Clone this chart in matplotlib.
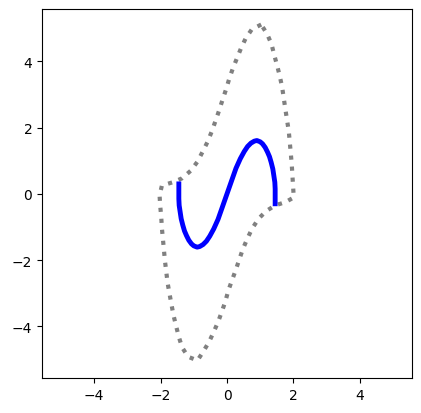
import matplotlib
matplotlib.use("Agg")
import matplotlib.pyplot as plt

# closed orbit (gray dotted)
cycle_x = [1.03, 0.75, 0.56, 0.42, 0.29, 0.17, 0.06, -0.03, -0.14, -0.24, -0.35, -0.46,
           -0.59, -0.74, -0.89, -1.09, -1.35, -1.63, -1.96, -2.03, -2.01, -1.98, -1.96,
           -1.93, -1.90, -1.87, -1.83, -1.79, -1.73, -1.67, -1.61, -1.53, -1.45, -1.35,
           -1.17, -0.89, -0.72, -0.54, -0.40, -0.27, -0.16, -0.05, 0.04, 0.15, 0.26, 0.37,
           0.48, 0.61, 0.75, 0.95, 1.18, 1.45, 1.76, 2.01, 1.99, 1.97, 1.95, 1.92, 1.89,
           1.86, 1.81, 1.76, 1.71, 1.66, 1.59, 1.51, 1.42, 1.34, 1.21, 1.03]
cycle_y = [5.11, 4.97, 4.69, 4.39, 4.07, 3.77, 3.45, 3.15, 2.82, 2.51, 2.19, 1.88,
           1.56, 1.26, 0.97, 0.70, 0.47, 0.35, 0.25, -0.05, -0.37, -0.70, -1.04,
           -1.36, -1.68, -2.01, -2.34, -2.68, -3.02, -3.35, -3.67, -4.00, -4.32, -4.64,
           -4.92, -5.03, -4.77, -4.47, -4.17, -3.87, -3.57, -3.25, -2.92, -2.61, -2.31, -1.98,
           -1.66, -1.36, -1.06, -0.75, -0.52, -0.35, -0.25, -0.11, 0.22, 0.55, 0.88, 1.23, 1.56,
           1.89, 2.21, 2.54, 2.88, 3.22, 3.55, 3.87, 4.20, 4.52, 4.82, 5.11]

# S-shaped curve (blue)
s_x = [-1.45, -1.45, -1.45, -1.44, -1.41, -1.38, -1.33, -1.28, -1.22, -1.15, -1.07,
       -1.00, -0.90, -0.82, -0.72, -0.62, -0.52, -0.40, -0.27, -0.14, 0.0,
       0.14, 0.27, 0.40, 0.52, 0.62, 0.72, 0.82, 0.90, 1.00, 1.07, 1.15, 1.22,
       1.28, 1.33, 1.38, 1.41, 1.44, 1.45, 1.45, 1.45]
s_y = [0.30, 0.05, -0.15, -0.35, -0.55, -0.75, -0.95, -1.12, -1.26, -1.40, -1.51,
       -1.57, -1.61, -1.59, -1.53, -1.43, -1.28, -1.06, -0.77, -0.40, 0.0,
       0.40, 0.77, 1.06, 1.28, 1.43, 1.53, 1.59, 1.61, 1.57, 1.51, 1.40, 1.26,
       1.12, 0.95, 0.75, 0.55, 0.35, 0.15, -0.05, -0.30]

fig = plt.figure(figsize=(4.21, 4.14), dpi=100)
ax = fig.add_axes([42 / 421, 35 / 414, 370 / 421, 369 / 414])

ax.plot(cycle_x, cycle_y, linestyle=":", color="gray", lw=3)
ax.plot(s_x, s_y, color="blue", lw=3.5)

ax.set_xlim(-5.57, 5.57)
ax.set_ylim(-5.56, 5.58)
ax.set_xticks([-4, -2, 0, 2, 4])
ax.set_yticks([-4, -2, 0, 2, 4])

fig.savefig("out.png", dpi=100)
